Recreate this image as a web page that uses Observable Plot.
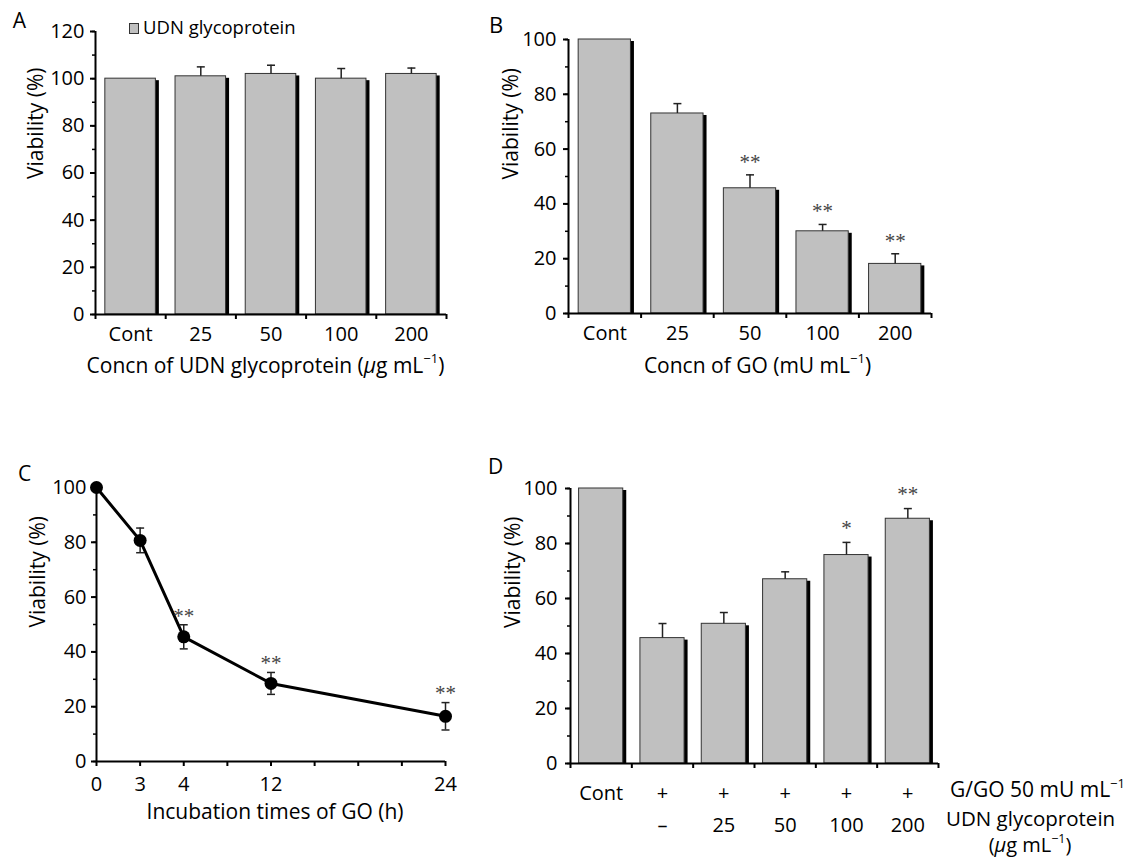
<!DOCTYPE html>
<html><head><meta charset="utf-8">
<script src="https://cdn.jsdelivr.net/npm/d3@7"></script>
<script src="https://cdn.jsdelivr.net/npm/@observablehq/plot@0.6"></script>
<style>
body{margin:0;background:#fff;}
#wrap{position:relative;width:1130px;height:857px;font-family:"Open Sans",sans-serif;color:#000;overflow:hidden;}
.panel{position:absolute;}
.t{position:absolute;white-space:nowrap;line-height:1;}
.t sup{position:relative;top:-0.72em;font-size:0.62em;line-height:0;vertical-align:baseline;}
.sw{position:absolute;background:#c0c0c0;border:1px solid #333;box-sizing:border-box;}
</style></head>
<body><div id="wrap"></div>
<script>
// ---------- data ----------
// Panel A: UDN glycoprotein alone
const catsA = ["Cont", "25", "50", "100", "200"];
const meanA = [100, 101, 102, 100, 102];
const sdA   = [0, 4, 3.7, 4.3, 2.5];

// Panel B: glucose oxidase concentration
const catsB = ["Cont", "25", "50", "100", "200"];
const meanB = [100, 73, 45.7, 30, 18.1];
const sdB   = [0, 3.6, 4.9, 2.5, 3.7];
const sigB  = ["", "", "**", "**", "**"];

// Panel C: incubation time with GO
const hoursC = [0, 3, 4, 12, 24];
const meanC  = [100, 80.7, 45.5, 28.5, 16.5];
const sdC    = [0.8, 4.5, 4.4, 4, 5];
const sigC   = ["", "", "**", "**", "**"];
const minorTicksC = [0, 3, 4, 8, 12, 15, 18, 21, 24];

// Panel D: G/GO + UDN glycoprotein
const goD   = ["Cont", "+", "+", "+", "+", "+"];
const udnD  = ["", "\u2013", "25", "50", "100", "200"];
const meanD = [100, 45.6, 50.8, 67, 75.8, 89];
const sdD   = [0, 5.3, 4.1, 2.7, 4.6, 3.7];
const sigD  = ["", "", "", "", "*", "**"];

// ---------- helpers ----------
const wrap = document.getElementById("wrap");
const capSym = {draw(ctx, size){ const w = Math.sqrt(size / Math.PI); ctx.moveTo(-w, 0); ctx.lineTo(w, 0); }};
const baseStyle = {fontFamily:"'Open Sans', sans-serif", fontSize:"20px", color:"#000", background:"transparent", overflow:"visible"};
const starFont = "'Liberation Serif', serif";

function place(node, left, top){
  const d = document.createElement("div");
  d.className = "panel"; d.style.left = left + "px"; d.style.top = top + "px";
  d.appendChild(node); wrap.appendChild(d);
}
function addText(html, x, baseline, fs, anchor){
  const d = document.createElement("div");
  d.className = "t"; d.innerHTML = html;
  d.style.fontSize = fs + "px";
  d.style.top = (baseline - 0.888 * fs) + "px";
  d.style.left = x + "px";
  if (anchor === "middle") d.style.transform = "translateX(-50%)";
  wrap.appendChild(d);
}

function barPanel(o){
  const n = o.cats.length;
  const rows = o.cats.map((c, i) => ({i, c, mean:o.mean[i], sd:o.sd[i], sig:o.sig ? o.sig[i] : ""}));
  const cx = d => d.i + 0.5;
  const hw = 0.36;
  const err = rows.filter(d => d.sd > 0);
  const marks = [
    Plot.rectY(rows, {x1:d => cx(d) - hw, x2:d => cx(d) + hw, y1:0, y2:"mean", fill:"#000", dx:3.5, insetTop:2}),
    Plot.rectY(rows, {x1:d => cx(d) - hw, x2:d => cx(d) + hw, y1:0, y2:"mean", fill:"#c0c0c0", stroke:"#333", strokeWidth:1}),
    Plot.ruleX(err, {x:cx, y1:"mean", y2:d => d.mean + d.sd, stroke:"#222", strokeWidth:1.5}),
    Plot.dot(err, {x:cx, y:d => d.mean + d.sd, symbol:capSym, r:4, stroke:"#222", strokeWidth:1.5}),
    Plot.text(rows.filter(d => d.sig), {x:cx, y:d => d.mean + d.sd, text:"sig", dy:o.sigDy, fontFamily:starFont, fontSize:21, fill:"#444"}),
    Plot.axisY({ticks:d3.range(0, o.yMax + 1, 10), tickSize:3, tickFormat:() => "", strokeWidth:1.5, label:null}),
    Plot.axisY({ticks:d3.range(0, o.yMax + 1, 20), tickSize:5, tickPadding:o.yPad, strokeWidth:2, label:null}),
    Plot.axisX({ticks:d3.range(0, n + 1), tickSize:5, tickFormat:() => "", strokeWidth:2, label:null}),
    ...o.rowsX.map(r => Plot.axisX({ticks:rows.map(cx), tickSize:0, tickPadding:r.pad, tickFormat:v => r.labels[Math.floor(v)], label:null})),
    Plot.ruleX([0], {y1:0, y2:o.yMax, strokeWidth:2}),
    Plot.ruleY([0], {strokeWidth:2}),
    Plot.text(["Viability (%)"], {frameAnchor:"left", dx:o.titleDx, dy:o.titleDy, rotate:-90, fontSize:21})
  ];
  return Plot.plot({
    width:o.w, height:o.h, marginLeft:o.ml, marginRight:o.mr, marginTop:o.mt, marginBottom:o.mb,
    x:{type:"linear", domain:[0, n]}, y:{domain:[0, o.yMax]},
    style:baseStyle, marks
  });
}

// Panel A
place(barPanel({cats:catsA, mean:meanA, sd:sdA, yMax:120, w:470, h:390, ml:95, mr:24, mt:31, mb:76,
  yPad:6, sigDy:-13, rowsX:[{labels:catsA, pad:12}], titleDx:-59, titleDy:6}), 0, 0);
// Panel B
place(barPanel({cats:catsB, mean:meanB, sd:sdB, sig:sigB, yMax:100, w:480, h:390, ml:88, mr:29, mt:39, mb:77,
  yPad:7, sigDy:-13, rowsX:[{labels:catsB, pad:12}], titleDx:-57, titleDy:3}), 480, 0);
// Panel D
place(barPanel({cats:goD, mean:meanD, sd:sdD, sig:sigD, yMax:100, w:640, h:437, ml:80, mr:192, mt:68, mb:94,
  yPad:8, sigDy:-14, rowsX:[{labels:goD, pad:22}, {labels:udnD, pad:54}], titleDx:-57, titleDy:2}), 490, 420);

// Panel C
(function(){
  const rows = hoursC.map((h, i) => ({h, mean:meanC[i], sd:sdC[i], sig:sigC[i]}));
  const W = 470, ml = 96, mr = 25;
  const x0 = ml, x1 = W - mr;
  const chart = Plot.plot({
    width:W, height:437, marginLeft:ml, marginRight:mr, marginTop:67, marginBottom:96,
    // the 4 h point sits on the tick placed at the 6 h position of an evenly spaced 0–24 axis
    x:{type:"linear", domain:hoursC, range:[0, 3, 6, 12, 24].map(v => x0 + v / 24 * (x1 - x0))},
    y:{domain:[0, 100]},
    style:baseStyle,
    marks:[
      Plot.axisY({ticks:d3.range(0, 101, 10), tickSize:3, tickFormat:() => "", strokeWidth:1.5, label:null}),
      Plot.axisY({ticks:d3.range(0, 101, 20), tickSize:5, tickPadding:5, strokeWidth:2, label:null}),
      Plot.axisX({ticks:minorTicksC, tickSize:5, tickFormat:() => "", strokeWidth:2, label:null}),
      Plot.axisX({ticks:hoursC, tickSize:0, tickPadding:15, label:null}),
      Plot.ruleX([0], {y1:0, y2:100, strokeWidth:2}),
      Plot.ruleY([0], {strokeWidth:2}),
      Plot.ruleX(rows, {x:"h", y1:d => d.mean - d.sd, y2:d => d.mean + d.sd, stroke:"#222", strokeWidth:1.5}),
      Plot.dot(rows, {x:"h", y:d => d.mean + d.sd, symbol:capSym, r:4, stroke:"#222", strokeWidth:1.5}),
      Plot.dot(rows, {x:"h", y:d => d.mean - d.sd, symbol:capSym, r:4, stroke:"#222", strokeWidth:1.5}),
      Plot.line(rows, {x:"h", y:"mean", stroke:"#000", strokeWidth:3}),
      Plot.dot(rows, {x:"h", y:"mean", r:6.5, fill:"#000"}),
      Plot.text(rows.filter(d => d.sig), {x:"h", y:d => d.mean + d.sd, text:"sig", dy:-9, fontFamily:starFont, fontSize:21, fill:"#444"}),
      Plot.text(["Viability (%)"], {frameAnchor:"left", dx:-58, dy:3, rotate:-90, fontSize:21})
    ]
  });
  place(chart, 0, 420);
})();

// ---------- panel letters, legend, axis titles ----------
addText("A", 12.7, 28.3, 21);
addText("B", 489, 32.3, 22);
addText("C", 18, 481.7, 21);
addText("D", 488, 475, 21);

const sw = document.createElement("div");
sw.className = "sw"; sw.style.left = "129px"; sw.style.top = "23px"; sw.style.width = "10px"; sw.style.height = "11px";
wrap.appendChild(sw);
addText("UDN glycoprotein", 143, 34, 18.5);

addText("Concn of UDN glycoprotein (<i>\u03bc</i>g mL<sup>\u22121</sup>)", 265.5, 373.3, 21, "middle");
addText("Concn of GO (mU mL<sup>\u22121</sup>)", 757.5, 373.3, 21, "middle");
addText("Incubation times of GO (h)", 275, 820, 21, "middle");
addText("G/GO 50 mU mL<sup>\u22121</sup>", 950, 798, 21);
addText("UDN glycoprotein", 946, 826, 20.5);
addText("(<i>\u03bc</i>g mL<sup>\u22121</sup>)", 1030, 853, 20, "middle");
</script>
</body></html>
